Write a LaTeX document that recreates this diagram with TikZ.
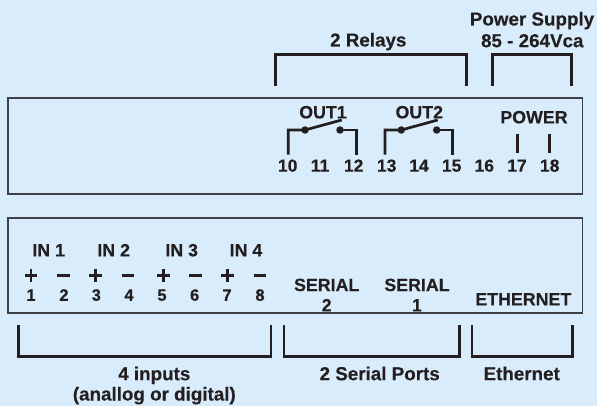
\documentclass[tikz,border=0pt]{standalone}
\usepackage{fontspec}
\setmainfont[BoldFeatures={FakeBold=0.25}]{Liberation Sans}
\definecolor{bgblue}{HTML}{D9ECFB}
\definecolor{ink}{HTML}{231F20}
\definecolor{boxline}{HTML}{3F4145}
\tikzset{
  base/.style={inner sep=0pt,outer sep=0pt,text=ink,text depth=0pt,anchor=center},
  lbl/.style={base,font=\bfseries\fontsize{18.8}{20}\selectfont,text height=13pt},
  caps/.style={base,font=\bfseries\fontsize{17.8}{20}\selectfont,text height=12.7pt},
  num/.style={base,font=\bfseries\fontsize{17.5}{20}\selectfont,text height=12pt},
  numsmall/.style={base,font=\bfseries\fontsize{16.5}{20}\selectfont,text height=11.5pt},
  panel/.style={draw=boxline,line width=1.3pt},
  bracket/.style={draw=ink,line width=2.7pt,line cap=butt,line join=miter},
  stub/.style={draw=ink,line width=3.6pt},
  wire/.style={draw=ink,line width=2.7pt,line join=miter},
  dot/.style={circle,fill=ink,inner sep=0pt,minimum size=7.5pt},
  sign/.style={draw=ink,line width=2.7pt}
}
\begin{document}
\begin{tikzpicture}[x=1pt,y=-1pt]
\useasboundingbox (0,0) rectangle (597,406);
\fill[bgblue] (0,0) rectangle (597,406);
% panels
\draw[panel] (8,98) rectangle (582.5,194);
\draw[panel] (8,218) rectangle (582.5,313);
% top brackets
\draw[bracket] (275.5,86) -- (275.5,54.5) -- (466.5,54.5) -- (466.5,86);
\draw[stub] (403.3,54.5) -- (416,54.5);
\draw[bracket] (492.5,86) -- (492.5,54.5) -- (571.5,54.5) -- (571.5,86);
\draw[stub] (545,54.5) -- (551,54.5);
% bottom brackets
\draw[bracket] (18.5,325) -- (18.5,356.5) -- (271,356.5) -- (271,325);
\draw[stub] (187.3,356.5) -- (202.7,356.5);
\draw[bracket] (284,325) -- (284,356.5) -- (459.5,356.5) -- (459.5,325);
\draw[stub] (401,356.5) -- (412.3,356.5);
\draw[bracket] (472,325) -- (472,356.5) -- (572.5,356.5) -- (572.5,325);
\draw[stub] (539.3,356.5) -- (546,356.5);
% relays
\node[dot] (a1) at (305,130) {};
\node[dot] (b1) at (340,130) {};
\coordinate (s1) at (341.7,120);
\draw[wire] (288.3,154.7) -- (288.3,130) -- (a1.center) -- (s1);
\draw[wire] (b1.center) -- (356.7,130) -- (356.7,154.7);
\node[dot] (a2) at (401.3,130) {};
\node[dot] (b2) at (436.7,130) {};
\coordinate (s2) at (437.7,120);
\draw[wire] (385,154.7) -- (385,130) -- (a2.center) -- (s2);
\draw[wire] (b2.center) -- (452.7,130) -- (452.7,154.7);
\draw[wire] (517.3,134) -- (517.3,152.7);
\draw[wire] (549.3,134) -- (549.3,152.7);
% top labels
\node[lbl] (t1) at (532,19) {Power Supply};
\node[lbl] (t2) at (532.3,40.7) {85 - 264Vca};
\node[lbl] (t3) at (368.3,40) {2 Relays};
\node[caps] (o1) at (323,112) {OUT1};
\node[caps] (o2) at (419.3,112) {OUT2};
\node[caps] (pw) at (534,117) {POWER};
\foreach \n/\x in {10/287.7,11/320,12/353.7,13/386.7,14/419,15/451.7,16/484.3,17/517,18/549.7}
  \node[num] (n\n) at (\x,165.7) {\n};
% bottom labels
\node[caps] (i1) at (48.7,250) {IN 1};
\node[caps] (i2) at (113.7,250) {IN 2};
\node[caps] (i3) at (181.7,250) {IN 3};
\node[caps] (i4) at (246,250) {IN 4};
\foreach \x in {31,95.7,163.3,227.7}{
  \draw[sign] (\x-6.3,275.3) -- (\x+6.3,275.3);
  \draw[sign] (\x,269) -- (\x,281.6);
}
\foreach \x in {63.7,128,195.7,260}
  \draw[sign] (\x-6.3,275.3) -- (\x+6.3,275.3);
\foreach \n/\x in {1/31,2/64,3/96.3,4/129,5/162,6/194.7,7/227,8/260}
  \node[numsmall] (m\n) at (\x,295) {\n};
\node[caps] (s2a) at (326.7,284.7) {SERIAL};
\node[caps] (s2b) at (326.7,305) {2};
\node[caps] (s1a) at (417,284.7) {SERIAL};
\node[caps] (s1b) at (417,305) {1};
\node[caps] (eth) at (523.3,299) {ETHERNET};
\node[lbl] (l1) at (154.3,373.7) {4 inputs};
\node[lbl] (l2) at (154.3,394) {(anallog or digital)};
\node[lbl] (l3) at (379.7,373.7) {2 Serial Ports};
\node[lbl] (l4) at (521.7,373.7) {Ethernet};
\end{tikzpicture}
\end{document}
